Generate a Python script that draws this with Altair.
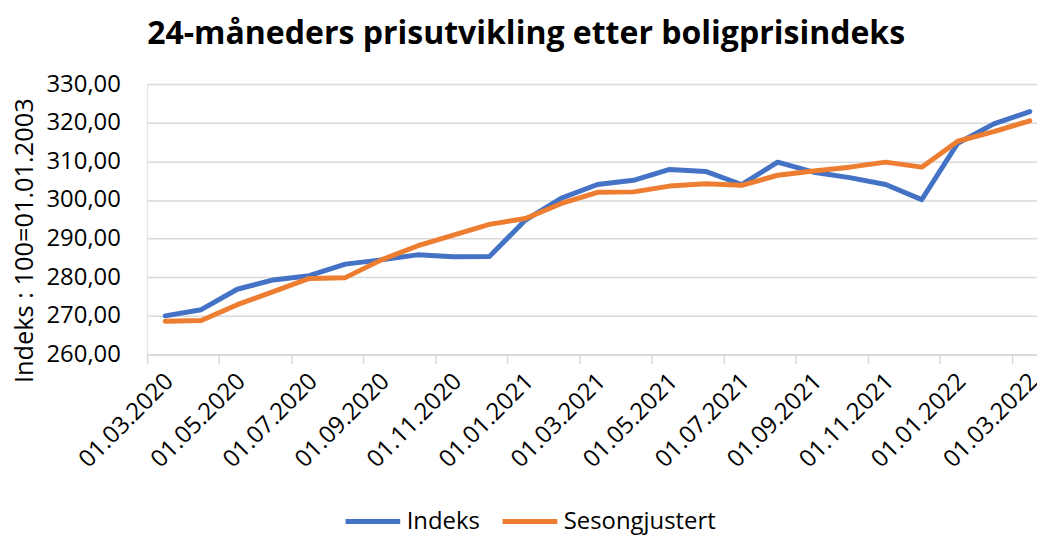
import json
import altair as alt
import pandas as pd

dates = [
    "01.03.2020", "01.04.2020", "01.05.2020", "01.06.2020", "01.07.2020",
    "01.08.2020", "01.09.2020", "01.10.2020", "01.11.2020", "01.12.2020",
    "01.01.2021", "01.02.2021", "01.03.2021", "01.04.2021", "01.05.2021",
    "01.06.2021", "01.07.2021", "01.08.2021", "01.09.2021", "01.10.2021",
    "01.11.2021", "01.12.2021", "01.01.2022", "01.02.2022", "01.03.2022",
]
indeks = [
    270.0, 271.6, 276.9, 279.3, 280.4, 283.4, 284.5, 285.8, 285.3, 285.4,
    294.8, 300.5, 304.0, 305.1, 307.9, 307.4, 304.0, 309.8, 307.2, 305.8,
    304.0, 300.1, 314.7, 319.7, 322.9,
]
sesong = [
    268.6, 268.8, 272.9, 276.3, 279.7, 279.9, 284.5, 288.1, 290.9, 293.7,
    295.2, 299.1, 302.0, 302.1, 303.6, 304.2, 303.8, 306.4, 307.5, 308.5,
    309.8, 308.5, 315.2, 317.7, 320.5,
]
series = ["Indeks", "Sesongjustert"]
colors = ["#4472C4", "#ED7D31"]

rows = []
for i, d in enumerate(dates):
    rows.append({"i": i, "dato": d, "serie": series[0], "verdi": indeks[i]})
    rows.append({"i": i, "dato": d, "serie": series[1], "verdi": sesong[i]})
df = pd.DataFrame(rows)

FONT = "Open Sans"
FS = 24
tick_vals = [k - 0.5 for k in range(0, 25, 2)]
label_vals = list(range(0, 25, 2))
labels_js = json.dumps(dates)

x_axis = alt.Axis(
    values=tick_vals + label_vals,
    labelExpr=f"datum.value % 1 === 0 ? {labels_js}[datum.value] : ''",
    labelAngle=-45,
    labelAlign="right",
    labelBaseline="middle",
    labelPadding=14,
    labelOffset=4,
    labelFontSize=FS,
    labelFont=FONT,
    labelColor="#000000",
    labelOverlap=False,
    labelFlush=False,
    labelBound=False,
    tickOpacity=alt.ExprRef("datum.value % 1 === 0 ? 0 : 1"),
    tickColor="#d9d9d9",
    tickWidth=1.5,
    tickSize=9,
    domainColor="#d9d9d9",
    domainWidth=1.5,
    grid=False,
    title=None,
)

y_axis = alt.Axis(
    values=[260, 270, 280, 290, 300, 310, 320, 330],
    labelExpr="replace(format(datum.value, '.2f'), '.', ',')",
    labelFontSize=FS,
    labelFont=FONT,
    labelColor="#000000",
    labelPadding=27,
    ticks=False,
    domain=False,
    gridColor="#d9d9d9",
    gridWidth=1.5,
    title="Indeks : 100=01.01.2003",
    titleFont=FONT,
    titleFontSize=25.5,
    titleFontWeight="normal",
    titleColor="#000000",
    titleAngle=-90,
    titleX=-115,
    titleY=157,
    titleAlign="center",
    titleBaseline="alphabetic",
)

chart = (
    alt.Chart(df)
    .mark_line(strokeWidth=5, strokeCap="round", strokeJoin="round")
    .encode(
        x=alt.X("i:Q", scale=alt.Scale(domain=[-0.5, 24.2], nice=False, zero=False), axis=x_axis),
        y=alt.Y("verdi:Q", scale=alt.Scale(domain=[260, 330], nice=False, zero=False), axis=y_axis),
        color=alt.Color(
            "serie:N",
            scale=alt.Scale(domain=series, range=colors),
            legend=alt.Legend(
                orient="none",
                legendX=197,
                legendY=410,
                direction="horizontal",
                title=None,
                symbolType="stroke",
                symbolSize=3025,
                symbolStrokeWidth=5,
                labelFont=FONT,
                labelFontSize=FS,
                labelColor="#000000",
                labelOffset=4,
                columnPadding=12,
                labelLimit=300,
            ),
        ),
        order="i:Q",
    )
    .properties(
        width=895,
        height=272,
        title=alt.TitleParams(
            "24-måneders prisutvikling etter boligprisindeks",
            font=FONT,
            fontSize=32.2,
            fontWeight="bold",
            color="#000000",
            anchor="start",
            frame="group",
            baseline="alphabetic",
            offset=-4,
        ),
        autosize=alt.AutoSizeParams(type="none"),
        padding={"left": 140, "top": 75, "right": 0, "bottom": 181},
    )
    .configure_view(stroke=None)
    .configure(background="#ffffff")
)

chart.save("out.html", embed_options={"renderer": "svg", "actions": False})
